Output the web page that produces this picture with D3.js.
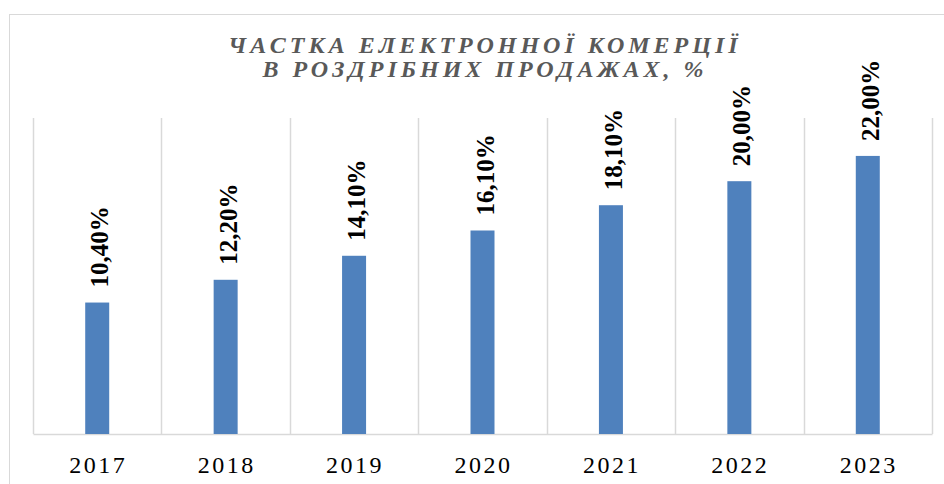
<!DOCTYPE html>
<html lang="uk">
<head>
  <meta charset="UTF-8">
  <title>Частка електронної комерції</title>
  <style>
    body { margin: 0; background: #fff; }
    text { font-family: "Liberation Serif", "Times New Roman", serif; }
  </style>
</head>
<body>
<div id="chart"></div>
<script src="https://cdn.jsdelivr.net/npm/d3@7"></script>
<script>
let years = ['2017', '2018', '2019', '2020', '2021', '2022', '2023']
let shares = [10.4, 12.2, 14.1, 16.1, 18.1, 20.0, 22.0]
let titleLines = ['ЧАСТКА ЕЛЕКТРОННОЇ КОМЕРЦІЇ', 'В РОЗДРІБНИХ ПРОДАЖАХ, %']

let width = 944
let height = 484
let plotLeft = 33, plotRight = 932, plotTop = 118, plotBottom = 434

let svg = d3.select('#chart').append('svg').attr('width', width).attr('height', height)

// рамка діаграми
svg.append('rect')
  .attr('x', 9.5).attr('y', 14.5)
  .attr('width', 960).attr('height', 500)
  .attr('fill', '#fff').attr('stroke', '#d9d9d9').attr('stroke-width', 1)

// заголовок
svg.append('g').selectAll('text').data(titleLines).enter().append('text')
  .attr('x', 485)
  .attr('y', (d, i) => 53 + i * 24)
  .attr('text-anchor', 'middle')
  .attr('fill', '#595959')
  .attr('font-size', '24px')
  .attr('font-weight', 'bold')
  .attr('font-style', 'italic')
  .attr('letter-spacing', '4px')
  .text(d => d)

// шкали
let x = d3.scaleBand().domain(years).range([plotLeft, plotRight])
let y = d3.scaleLinear().domain([0, 25]).range([plotBottom, plotTop])
let barW = 24

// вертикальні лінії сітки
let edges = d3.range(years.length + 1).map(i => plotLeft + i * x.step())
svg.append('g').selectAll('line').data(edges).enter().append('line')
  .attr('x1', d => Math.round(d) + 0.5).attr('x2', d => Math.round(d) + 0.5)
  .attr('y1', plotTop).attr('y2', plotBottom)
  .attr('stroke', '#d9d9d9').attr('stroke-width', 1.5)

// вісь X
let xAxis = d3.axisBottom(x).tickSize(0).tickPadding(22)
let gx = svg.append('g').attr('transform', 'translate(0,' + plotBottom + ')').call(xAxis)
gx.select('.domain').attr('stroke', '#d9d9d9').attr('stroke-width', 1.5)
gx.selectAll('text')
  .attr('font-family', '"Liberation Serif", serif')
  .attr('font-size', '24px')
  .attr('letter-spacing', '2.5px')
  .attr('dx', '1px')
  .attr('fill', '#000')

// стовпці
svg.append('g').selectAll('rect').data(shares).enter().append('rect')
  .attr('x', (d, i) => x(years[i]) + x.bandwidth() / 2 - barW / 2)
  .attr('y', d => y(d))
  .attr('width', barW)
  .attr('height', d => plotBottom - y(d))
  .attr('fill', '#4f81bd')

// підписи значень
svg.append('g').selectAll('text').data(shares).enter().append('text')
  .attr('transform', (d, i) => 'translate(' + (x(years[i]) + x.bandwidth() / 2 + 11) + ',' + (y(d) - 15) + ') rotate(-90)')
  .attr('font-size', '25px')
  .attr('font-weight', 'bold')
  .attr('fill', '#000')
  .text(d => d.toFixed(2).replace('.', ',') + '%')
</script>
</body>
</html>
